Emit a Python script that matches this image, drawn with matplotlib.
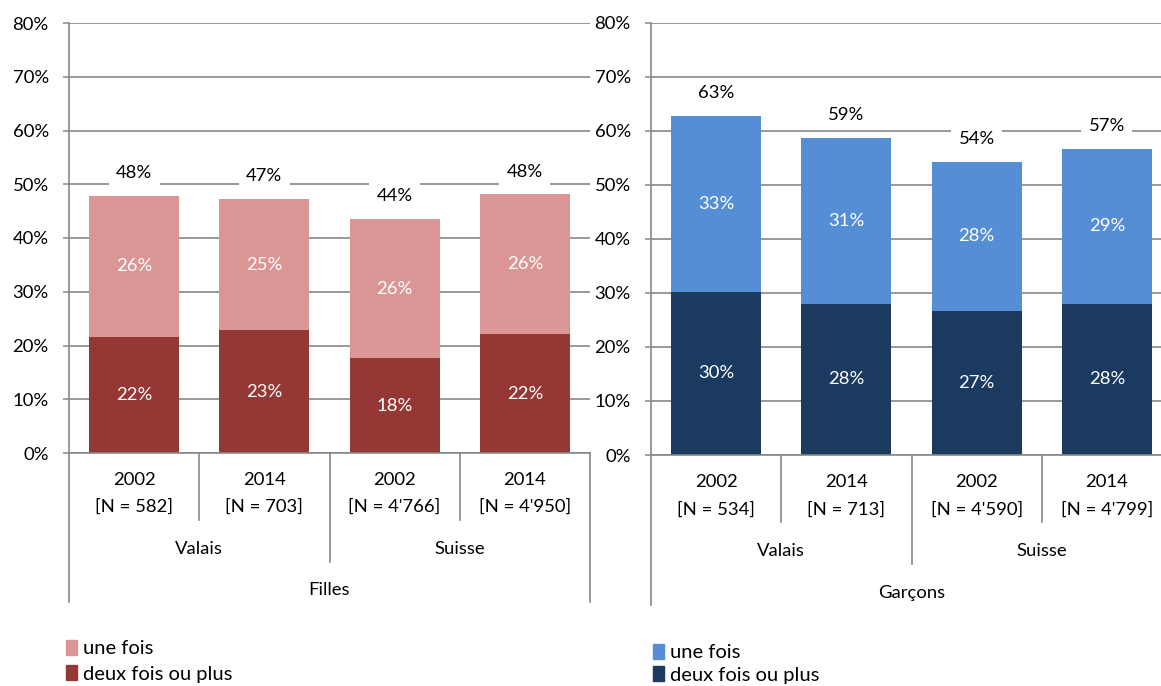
import matplotlib
matplotlib.use("Agg")
import matplotlib.pyplot as plt
from matplotlib.patches import Patch

plt.rcParams['font.family'] = ['Lato', 'DejaVu Sans']

# === DATA ===
years = ["2002", "2014", "2002", "2014"]
regions = ["Valais", "Suisse"]

filles_n = ["[N = 582]", "[N = 703]", "[N = 4'766]", "[N = 4'950]"]
filles_deux = [21.5, 22.8, 17.6, 22.1]
filles_une = [26.4, 24.5, 26.0, 26.0]
filles_deux_lbl = [22, 23, 18, 22]
filles_une_lbl = [26, 25, 26, 26]
filles_tot_lbl = [48, 47, 44, 48]

garcons_n = ["[N = 534]", "[N = 713]", "[N = 4'590]", "[N = 4'799]"]
garcons_deux = [30.2, 28.0, 26.7, 28.0]
garcons_une = [32.6, 30.7, 27.6, 28.7]
garcons_deux_lbl = [30, 28, 27, 28]
garcons_une_lbl = [33, 31, 28, 29]
garcons_tot_lbl = [63, 59, 54, 57]

legend_labels = ["une fois", "deux fois ou plus"]
# =============

GRID = "#878787"
FS = 13.3


def draw_panel(ax, deux, une, deux_lbl, une_lbl, tot_lbl, n_lbl, group, c_une, c_deux):
    x = list(range(len(deux)))
    ax.bar(x, deux, width=0.69, color=c_deux, zorder=2)
    ax.bar(x, une, bottom=deux, width=0.69, color=c_une, zorder=2)
    for i in x:
        ax.text(i, deux[i] / 2, f"{deux_lbl[i]}%", ha="center", va="center",
                color="white", fontsize=FS, zorder=3)
        ax.text(i, deux[i] + une[i] / 2, f"{une_lbl[i]}%", ha="center", va="center",
                color="white", fontsize=FS, zorder=3)
        ax.annotate(f"{tot_lbl[i]}%", (i, deux[i] + une[i]), xytext=(0, 16.5),
                    textcoords="offset points", ha="center", va="center", fontsize=FS,
                    zorder=3, bbox=dict(boxstyle="square,pad=0.4", fc="white", ec="none"))

    ax.set_xlim(-0.5, 3.5)
    ax.set_ylim(0, 80)
    ax.set_yticks(range(0, 81, 10))
    ax.set_yticklabels([f"{v}%" for v in range(0, 81, 10)], fontsize=FS)
    ax.tick_params(axis="y", direction="out", length=4.5, width=1.1, color=GRID, pad=10)
    ax.set_xticks([])
    ax.yaxis.grid(True, color=GRID, lw=1.2)
    ax.set_axisbelow(True)
    for s in ["top", "right"]:
        ax.spines[s].set_visible(False)
    for s in ["left", "bottom"]:
        ax.spines[s].set_color(GRID)
        ax.spines[s].set_linewidth(1.2)

    # multi-level category axis
    tr = ax.get_xaxis_transform()
    kw = dict(color=GRID, lw=1.2, transform=tr, clip_on=False)
    for b in [0.5, 2.5]:
        ax.plot([b, b], [0, -0.156], **kw)
    ax.plot([1.5, 1.5], [0, -0.253], **kw)
    for b in [-0.5, 3.5]:
        ax.plot([b, b], [0, -0.347], **kw)
    for i in x:
        ax.text(i, -0.063, years[i], transform=tr, ha="center", va="center", fontsize=FS)
        ax.text(i, -0.126, n_lbl[i], transform=tr, ha="center", va="center", fontsize=FS)
    for j, r in enumerate(regions):
        ax.text(0.5 + 2 * j, -0.223, r, transform=tr, ha="center", va="center", fontsize=FS)
    ax.text(1.5, -0.319, group, transform=tr, ha="center", va="center", fontsize=FS)


fig = plt.figure(figsize=(11.61, 6.86), dpi=100)
ax1 = fig.add_axes([69 / 1161, 1 - 453 / 686, 521 / 1161, 430 / 686])
ax2 = fig.add_axes([651 / 1161, 1 - 455 / 686, 521 / 1161, 432 / 686])

draw_panel(ax1, filles_deux, filles_une, filles_deux_lbl, filles_une_lbl, filles_tot_lbl,
           filles_n, "Filles", "#D99694", "#953735")
draw_panel(ax2, garcons_deux, garcons_une, garcons_deux_lbl, garcons_une_lbl, garcons_tot_lbl,
           garcons_n, "Garçons", "#558ED5", "#1A3A60")

leg_kw = dict(frameon=False, fontsize=14.5, handlelength=0.55, handleheight=0.75,
              handletextpad=0.3, borderaxespad=0, borderpad=0)
fig.legend(handles=[Patch(color="#D99694"), Patch(color="#953735")], labels=legend_labels,
           loc="upper left", bbox_to_anchor=(66 / 1161, 1 - 640 / 686),
           labelspacing=0.4, **leg_kw)
fig.legend(handles=[Patch(color="#558ED5"), Patch(color="#1A3A60")], labels=legend_labels,
           loc="upper left", bbox_to_anchor=(653 / 1161, 1 - 644 / 686),
           labelspacing=0.25, **leg_kw)

fig.savefig("out.png", dpi=100)
